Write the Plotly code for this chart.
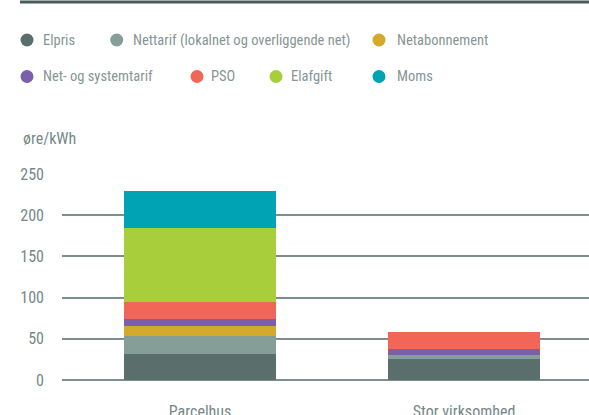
import plotly.graph_objects as go

categories = ["Parcelhus", "Stor virksomhed"]
series_names = ["Elpris", "Nettarif (lokalnet og overliggende net)", "Netabonnement",
                "Net- og systemtarif", "PSO", "Elafgift", "Moms"]
elpris = [31, 25.5]
nettarif = [22.5, 5]
netabonnement = [12, 0]
net_system = [8.5, 7.3]
pso = [20.5, 21]
elafgift = [90, 0]
moms = [44.6, 0]
values = [elpris, nettarif, netabonnement, net_system, pso, elafgift, moms]
colors = ["#5a6f6b", "#869e98", "#d3aa2b", "#7a60a9", "#f26657", "#a8ce3b", "#00a3b3"]
y_ticks = [0, 50, 100, 150, 200, 250]
y_title = "øre/kWh"

FONT = "Roboto Condensed, Liberation Sans Narrow, sans-serif"
TXT = "#768886"
LEG_TXT = "#869695"
W, H = 589, 415
ML, MR, MT, MB = 62, 0, 174, 35
PW, PH = W - ML - MR, H - MT - MB


def px(x):
    return (x - ML) / PW


def py(y):
    return (H - MB - y) / PH


fig = go.Figure()
for name, vals, col in zip(series_names, values, colors):
    fig.add_trace(go.Bar(x=[0, 1], y=vals, name=name, marker_color=col,
                         marker_line_width=0, width=0.576, showlegend=False))

fig.update_layout(
    barmode="stack",
    width=W, height=H,
    margin=dict(l=ML, r=MR, t=MT, b=MB, autoexpand=False),
    paper_bgcolor="white", plot_bgcolor="white",
    font=dict(family=FONT, color=TXT, size=15),
    xaxis=dict(range=[-0.523, 1.473], tickmode="array", tickvals=[0, 1],
               ticktext=categories, showgrid=False, zeroline=False,
               ticks="outside", ticklen=17, tickcolor="rgba(0,0,0,0)",
               automargin=False, tickfont=dict(size=16, color=TXT)),
    yaxis=dict(range=[0, 250], tickmode="array", tickvals=y_ticks,
               showgrid=True, gridcolor="#7d8f8d", gridwidth=2,
               zeroline=True, zerolinecolor="#7d8f8d", zerolinewidth=2,
               automargin=False,
               ticks="", ticklabelstandoff=17, tickfont=dict(size=16, color=TXT)),
)

# top rule
fig.add_shape(type="line", xref="paper", yref="paper",
              x0=px(20), x1=1, y0=py(2), y1=py(2),
              line=dict(color="#4b5a5a", width=3))

# y-axis unit label
fig.add_annotation(text=y_title, xref="paper", yref="paper",
                   x=px(21), y=py(138), xanchor="left", yanchor="middle",
                   showarrow=False, font=dict(size=16, color=TXT))

# manual legend: (circle centre x, text start x, centre y)
legend_pos = [(27, 42, 40), (116.7, 131.5, 40), (379, 396, 40),
              (27, 42, 76.5), (197, 210, 76.5), (276, 289.5, 76.5), (379, 395.5, 76.5)]
R = 6.5
for name, col, (cx, tx, cy) in zip(series_names, colors, legend_pos):
    fig.add_shape(type="circle", xref="paper", yref="paper",
                  x0=px(cx - R), x1=px(cx + R), y0=py(cy + R), y1=py(cy - R),
                  fillcolor=col, line=dict(width=0))
    fig.add_annotation(text=name, xref="paper", yref="paper",
                       x=px(tx - 1), y=py(cy), xanchor="left", yanchor="middle",
                       showarrow=False, font=dict(size=14.5, color=LEG_TXT))

fig.write_html("out.html", config={"displayModeBar": False},
               post_script="document.body.style.margin='0';")
